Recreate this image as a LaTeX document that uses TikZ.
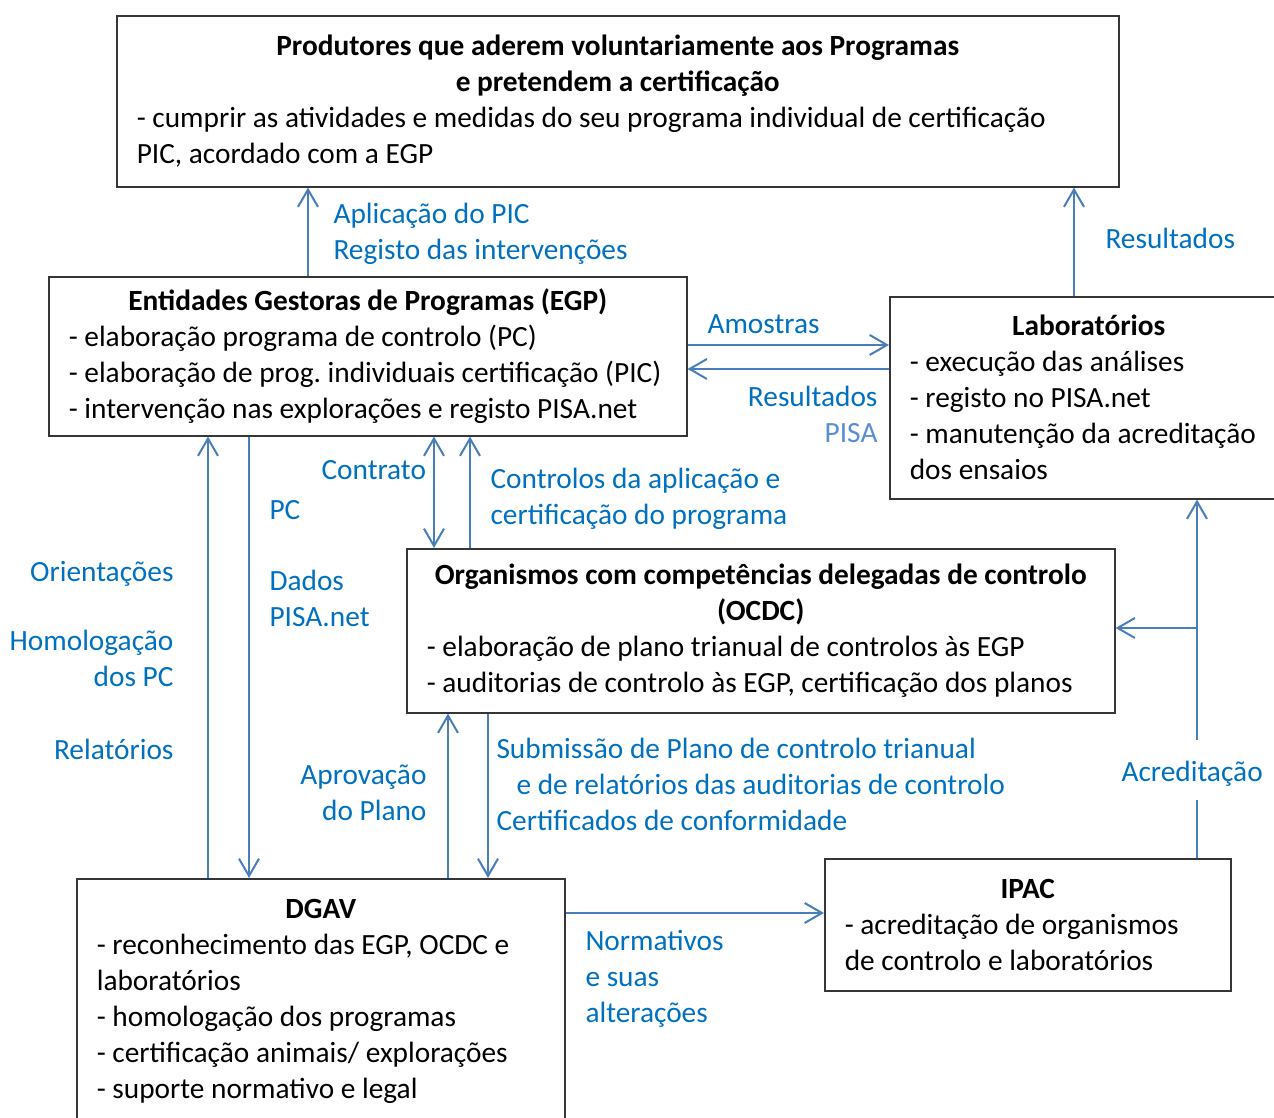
\documentclass[tikz,border=0pt]{standalone}
\usepackage{fontspec}
\setmainfont{Carlito}
\usetikzlibrary{arrows.meta}
\definecolor{LineBlue}{HTML}{4A7EBB}
\definecolor{TextBlue}{HTML}{0070C0}
\definecolor{PaleBlue}{HTML}{5A8ED2}
\definecolor{BoxLine}{HTML}{363636}
\frenchspacing
\tikzset{
  >={Straight Barb[length=6.5pt,width=7.5pt]},
  module/.style={rectangle, draw=BoxLine, line width=0.6pt, anchor=north west,
    align=left, inner xsep=7.5pt, inner ysep=0pt,
    execute at begin node={\spaceskip=0pt\xspaceskip=0pt\relax},
    font=\fontsize{11}{13.5}\selectfont},
  arrow/.style={->, line width=0.75pt, color=LineBlue},
  link/.style={line width=0.75pt, color=LineBlue},
  lbl/.style={inner sep=0pt, color=TextBlue, font=\fontsize{11}{13.5}\selectfont},
}

\begin{document}
\begin{tikzpicture}[x=0.375pt, y=-0.375pt]
  \useasboundingbox (0,0) rectangle (1274,1118);

  % Produtores
  \node[module, text width=360.75pt, minimum height=64.1pt] (prod) at (116,15)
    {{\centering\bfseries Produtores que aderem voluntariamente aos Programas\\
      e pretendem a certificação\par}
     - cumprir as atividades e medidas do seu programa individual de certificação\\
     PIC, acordado com a EGP};

  % EGP
  \node[module, text width=224.25pt, minimum height=59.6pt] (egp) at (48,276)
    {{\centering\bfseries Entidades Gestoras de Programas (EGP)\par}
     - elaboração programa de controlo (PC)\\
     - elaboração de prog. individuais certificação (PIC)\\
     - intervenção nas explorações e registo PISA.net};

  % Laboratorios
  \node[module, text width=134.25pt, minimum height=75.75pt] (lab) at (889,296)
    {{\centering\bfseries Laboratórios\par}
     - execução das análises\\
     - registo no PISA.net\\
     - manutenção da acreditação\\
     dos ensaios};

  % OCDC
  \node[module, text width=250.5pt, minimum height=61.5pt] (ocdc) at (406,548)
    {{\centering\bfseries Organismos com competências delegadas de controlo\\
      (OCDC)\par}
     - elaboração de plano trianual de controlos às EGP\\
     - auditorias de controlo às EGP, certificação dos planos};

  % DGAV
  \node[module, text width=168pt, minimum height=91.9pt] (dgav) at (76,878)
    {{\centering\bfseries DGAV\par}
     - reconhecimento das EGP, OCDC e\\
     laboratórios\\
     - homologação dos programas\\
     - certificação animais/ explorações\\
     - suporte normativo e legal};

  % IPAC
  \node[module, text width=137.25pt, minimum height=49.5pt] (ipac) at (824,858)
    {{\centering\bfseries IPAC\par}
     - acreditação de organismos\\
     de controlo e laboratórios};

  % connector positions
  \coordinate (xPic) at (308,0);
  \coordinate (xRes) at (1074,0);
  \coordinate (yAmo) at (0,345);
  \coordinate (yPisa) at (0,369);
  \coordinate (xCon) at (434,0);
  \coordinate (xCtl) at (470,0);
  \coordinate (xOri) at (208,0);
  \coordinate (xPC) at (249,0);
  \coordinate (xApr) at (448,0);
  \coordinate (xSub) at (488,0);
  \coordinate (yNor) at (0,913);
  \coordinate (yAcr) at (0,628);
  \coordinate (acrLow) at (1197,800);
  \coordinate (acrUp) at (1197,740);

  % arrows
  \draw[arrow] (egp.north -| xPic) -- (prod.south -| xPic);
  \draw[arrow] (lab.north -| xRes) -- (prod.south -| xRes);
  \draw[arrow] (egp.east |- yAmo) -- (lab.west |- yAmo);
  \draw[arrow] (lab.west |- yPisa) -- (egp.east |- yPisa);
  \draw[link, <->] (egp.south -| xCon) -- (ocdc.north -| xCon);
  \draw[arrow] (ocdc.north -| xCtl) -- (egp.south -| xCtl);
  \draw[arrow] (dgav.north -| xOri) -- (egp.south -| xOri);
  \draw[arrow] (egp.south -| xPC) -- (dgav.north -| xPC);
  \draw[arrow] (dgav.north -| xApr) -- (ocdc.south -| xApr);
  \draw[arrow] (ocdc.south -| xSub) -- (dgav.north -| xSub);
  \draw[arrow] (dgav.east |- yNor) -- (ipac.west |- yNor);
  \draw[link] (ipac.north -| acrLow) -- (acrLow);
  \draw[arrow] (acrUp) -- (lab.south -| acrUp);
  \draw[arrow] (acrUp |- yAcr) -- (ocdc.east |- yAcr);

  % labels (base = last line)
  \node[lbl, anchor=base west, align=left] (tPic) at (333,260)
    {Aplicação do PIC\\Registo das intervenções};
  \node[lbl, anchor=base west] (tRes) at (1105,249) {Resultados};
  \node[lbl, anchor=base west] (tAmo) at (707,334) {Amostras};
  \node[lbl, anchor=base east, align=right] (tPisa) at (878,443)
    {Resultados\\\textcolor{PaleBlue}{PISA}};
  \node[lbl, anchor=base west] (tCon) at (321,480) {Contrato};
  \node[lbl, anchor=base west, align=left] (tCtl) at (490,525)
    {Controlos da aplicação e\\certificação do programa};
  \node[lbl, anchor=base west] (tPC) at (269,520) {PC};
  \node[lbl, anchor=base west, align=left] (tDad) at (269,627) {Dados\\PISA.net};
  \node[lbl, anchor=base east] (tOri) at (174,582) {Orientações};
  \node[lbl, anchor=base east, align=right] (tHom) at (174,687) {Homologação\\dos PC};
  \node[lbl, anchor=base east] (tRel) at (174,760) {Relatórios};
  \node[lbl, anchor=base east, align=right] (tApr) at (427,821) {Aprovação\\do Plano};
  \node[lbl, anchor=base west, align=left] (tSub) at (496,831)
    {Submissão de Plano de controlo trianual\\
     \hspace*{7.5pt}e de relatórios das auditorias de controlo\\
     Certificados de conformidade};
  \node[lbl, anchor=base west, align=left] (tNor) at (585,1023)
    {Normativos\\e suas\\alterações};
  \node[lbl, anchor=base west] (tAcr) at (1121,782) {Acreditação};

\end{tikzpicture}
\end{document}
